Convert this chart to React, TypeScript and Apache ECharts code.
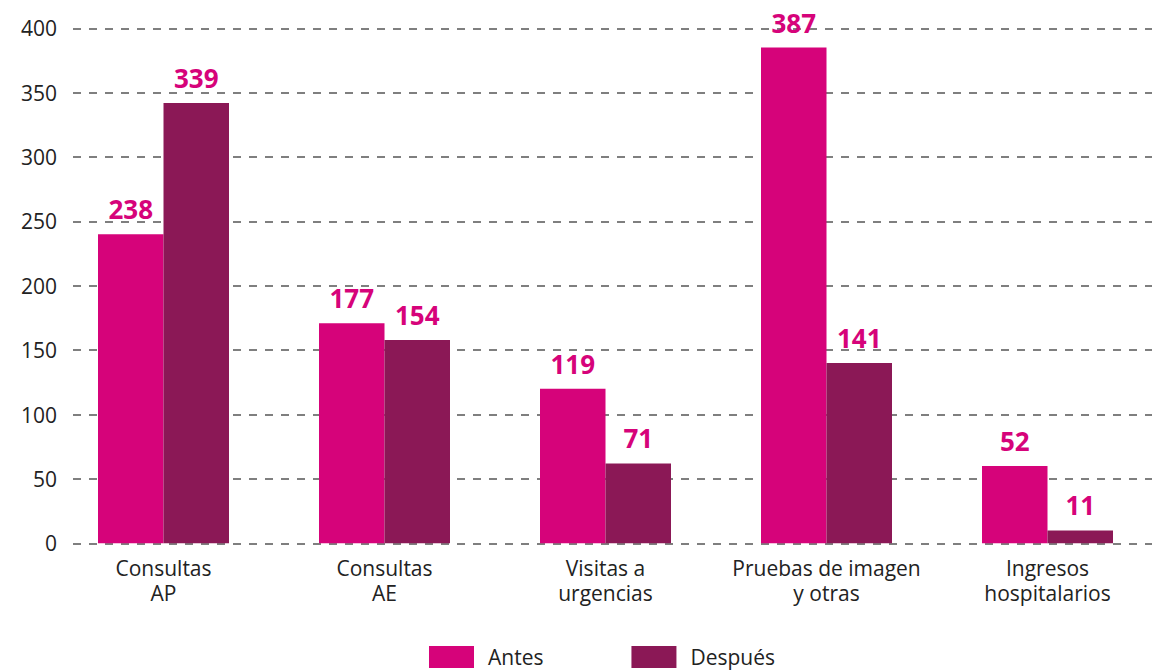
import React, { useEffect, useRef } from "react";
import * as echarts from "echarts";

const categories = [
  "Consultas\nAP",
  "Consultas\nAE",
  "Visitas a\nurgencias",
  "Pruebas de imagen\ny otras",
  "Ingresos\nhospitalarios",
];
// bar heights as drawn in the picture
const antesValues = [240, 171, 120, 385, 60];
const despuesValues = [342, 158, 62, 140, 10];
// printed value labels
const antesLabels = ["238", "177", "119", "387", "52"];
const despuesLabels = ["339", "154", "71", "141", "11"];
const seriesNames = ["Antes", "Después"];
const yTicks = { min: 0, max: 400, interval: 50 };

const PINK = "#d6037a";
const PLUM = "#8b1856";
const FONT = "'Open Sans', 'Noto Sans', sans-serif";

export default function App() {
  const ref = useRef<HTMLDivElement>(null);
  useEffect(() => {
    if (!ref.current) return;
    const chart = echarts.init(ref.current, undefined, { renderer: "svg" });
    const labelStyle = {
      show: true,
      position: "top" as const,
      distance: 12,
      color: PINK,
      fontFamily: FONT,
      fontWeight: "bold" as const,
      fontSize: 26,
    };
    chart.setOption({
      animation: false,
      backgroundColor: "#ffffff",
      textStyle: { fontFamily: FONT },
      grid: [
        { left: 73, right: 6, top: 28.3, height: 515, containLabel: false },
        { left: 53, width: 1109.5, top: 28.3, height: 515, containLabel: false },
      ],
      legend: {
        left: 429,
        top: 646,
        padding: 0,
        itemWidth: 45,
        itemHeight: 22,
        itemGap: 88,
        icon: "rect",
        textStyle: {
          fontSize: 21,
          lineHeight: 22,
          color: "#222",
          fontFamily: FONT,
          padding: [0, 0, 0, 9],
        },
        data: seriesNames,
      },
      xAxis: [
        {
          type: "category",
          gridIndex: 0,
          data: categories,
          show: false,
        },
        {
          type: "category",
          gridIndex: 1,
          data: categories,
          axisLine: { show: false },
          axisTick: { show: false },
          axisLabel: {
            interval: 0,
            color: "#222",
            fontSize: 21,
            lineHeight: 25,
            margin: 12,
            fontFamily: FONT,
          },
        },
      ],
      yAxis: [
        {
          type: "value",
          gridIndex: 0,
          min: yTicks.min,
          max: yTicks.max,
          interval: yTicks.interval,
          axisLine: { show: false },
          axisTick: { show: false },
          axisLabel: { color: "#222", fontSize: 21, margin: 16, fontFamily: FONT },
          splitLine: {
            show: true,
            lineStyle: { color: "#555", width: 1.5, type: [8, 8] },
          },
        },
        {
          type: "value",
          gridIndex: 1,
          min: yTicks.min,
          max: yTicks.max,
          interval: yTicks.interval,
          show: false,
          splitLine: { show: false },
        },
      ],
      series: [
        {
          name: seriesNames[0],
          type: "bar",
          xAxisIndex: 1,
          yAxisIndex: 1,
          data: antesValues,
          barWidth: 65.5,
          barGap: "0%",
          itemStyle: { color: PINK },
          label: { ...labelStyle, formatter: (p: any) => antesLabels[p.dataIndex] },
        },
        {
          name: seriesNames[1],
          type: "bar",
          xAxisIndex: 1,
          yAxisIndex: 1,
          data: despuesValues,
          barWidth: 65.5,
          barGap: "0%",
          itemStyle: { color: PLUM },
          label: { ...labelStyle, formatter: (p: any) => despuesLabels[p.dataIndex] },
        },
      ],
    });
    return () => chart.dispose();
  }, []);
  return (
    <div
      ref={ref}
      style={{ position: "fixed", left: 0, top: 0, width: 1158, height: 671, background: "#fff" }}
    />
  );
}
